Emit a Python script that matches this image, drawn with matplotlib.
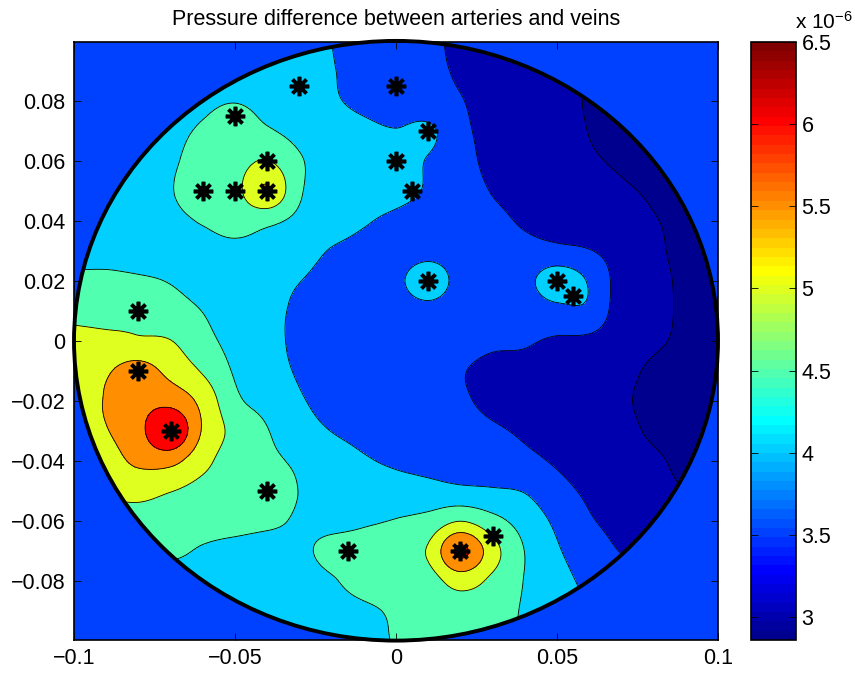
import numpy as np
import matplotlib
matplotlib.use("Agg")
import matplotlib.pyplot as plt
from matplotlib.colors import ListedColormap, Normalize
from matplotlib.patches import Circle
from matplotlib.cm import ScalarMappable

plt.rcParams["font.family"] = ["Liberation Sans", "DejaVu Sans"]
plt.rcParams["mathtext.default"] = "regular"

# field sampled on a 0.01 grid, values in units of 1e-6 (rows: y = 0.10 ... -0.10)
x_grid = np.round(np.arange(-0.1, 0.1001, 0.01), 3)
y_grid = np.round(np.arange(0.1, -0.1001, -0.01), 3)
pressure = [
    [4.2, 4.2, 4.2, 4.2, 4.2, 4.2, 4.2, 4.2, 4.0, 3.85, 3.75, 3.6, 3.4, 3.3, 3.2, 3.1, 3.0, 2.95, 2.95, 2.95, 2.95],
    [4.2, 4.2, 4.2, 4.2, 4.2, 4.15, 4.15, 4.1, 4.02, 3.85, 3.75, 3.6, 3.45, 3.3, 3.2, 3.1, 3.0, 2.95, 2.95, 2.95, 2.95],
    [4.2, 4.2, 4.25, 4.3, 4.4, 4.48, 4.35, 4.2, 4.05, 3.9, 3.75, 3.65, 3.52, 3.35, 3.25, 3.15, 2.97, 2.95, 2.9, 2.9, 2.9],
    [4.2, 4.25, 4.3, 4.4, 4.55, 4.7, 4.55, 4.35, 4.2, 4.1, 4.02, 4.1, 3.6, 3.4, 3.3, 3.2, 2.99, 2.9, 2.85, 2.85, 2.85],
    [4.25, 4.3, 4.35, 4.45, 4.65, 4.8, 5.02, 4.55, 4.3, 4.2, 4.15, 3.97, 3.65, 3.4, 3.3, 3.2, 3.05, 2.95, 2.85, 2.8, 2.8],
    [4.3, 4.35, 4.4, 4.48, 4.75, 4.85, 5.52, 4.56, 4.35, 4.25, 4.15, 3.95, 3.7, 3.48, 3.35, 3.25, 3.15, 3.05, 2.95, 2.85, 2.8],
    [4.3, 4.35, 4.4, 4.42, 4.53, 4.65, 4.6, 4.4, 4.25, 4.05, 3.9, 3.8, 3.7, 3.6, 3.45, 3.35, 3.25, 3.15, 3.02, 2.92, 2.88],
    [4.35, 4.4, 4.4, 4.4, 4.38, 4.4, 4.35, 4.2, 3.97, 3.85, 3.8, 3.85, 3.78, 3.7, 3.62, 3.6, 3.52, 3.3, 3.08, 2.9, 2.85],
    [4.6, 4.58, 4.55, 4.48, 4.35, 4.25, 4.15, 4.01, 3.85, 3.8, 3.9, 4.25, 3.85, 3.75, 3.85, 4.3, 3.95, 3.3, 3.12, 2.93, 2.88],
    [4.85, 4.85, 4.93, 4.7, 4.49, 4.3, 4.12, 3.93, 3.8, 3.75, 3.78, 3.85, 3.75, 3.7, 3.7, 3.85, 3.9, 3.25, 3.1, 2.95, 2.9],
    [5.15, 5.1, 5.05, 5.01, 4.65, 4.35, 4.15, 3.9, 3.8, 3.72, 3.7, 3.68, 3.63, 3.56, 3.54, 3.45, 3.4, 3.2, 3.05, 2.95, 2.9],
    [5.3, 5.45, 5.7, 5.35, 4.95, 4.45, 4.2, 3.95, 3.8, 3.72, 3.67, 3.6, 3.52, 3.42, 3.4, 3.35, 3.25, 3.1, 2.95, 2.9, 2.85],
    [5.4, 5.52, 5.8, 5.82, 5.35, 4.6, 4.35, 4.05, 3.85, 3.75, 3.7, 3.65, 3.55, 3.42, 3.35, 3.3, 3.2, 3.05, 2.92, 2.88, 2.84],
    [5.4, 5.48, 5.85, 6.5, 5.45, 4.85, 4.52, 4.2, 3.99, 3.85, 3.78, 3.7, 3.65, 3.55, 3.45, 3.35, 3.22, 3.1, 2.95, 2.88, 2.84],
    [5.2, 5.3, 5.6, 5.65, 5.15, 4.75, 4.6, 4.42, 4.25, 4.05, 3.93, 3.85, 3.78, 3.7, 3.6, 3.45, 3.3, 3.17, 3.05, 2.93, 2.88],
    [5.05, 5.1, 5.15, 5.02, 4.85, 4.75, 4.75, 4.49, 4.35, 4.25, 4.2, 4.15, 4.1, 4.05, 3.97, 3.65, 3.42, 3.25, 3.1, 3.0, 2.95],
    [4.75, 4.75, 4.8, 4.78, 4.72, 4.68, 4.6, 4.45, 4.4, 4.45, 4.52, 4.65, 4.98, 4.65, 4.3, 3.9, 3.55, 3.35, 3.2, 3.1, 3.05],
    [4.6, 4.6, 4.6, 4.6, 4.45, 4.35, 4.3, 4.42, 4.6, 4.65, 4.75, 5.05, 6.1, 5.2, 4.49, 4.05, 3.75, 3.48, 3.4, 3.3, 3.25],
    [4.3, 4.3, 4.3, 4.3, 4.3, 4.3, 4.3, 4.35, 4.47, 4.62, 4.68, 4.8, 5.2, 4.9, 4.48, 4.15, 3.9, 3.7, 3.6, 3.5, 3.45],
    [4.3, 4.3, 4.3, 4.3, 4.3, 4.3, 4.3, 4.32, 4.38, 4.45, 4.55, 4.7, 4.75, 4.7, 4.45, 4.2, 4.0, 3.8, 3.7, 3.6, 3.55],
    [4.3, 4.3, 4.3, 4.3, 4.3, 4.3, 4.3, 4.3, 4.35, 4.42, 4.52, 4.65, 4.65, 4.6, 4.45, 4.25, 4.1, 3.9, 3.8, 3.7, 3.6],
]

# vessel positions (asterisks)
vessel_x = [-0.03, 0.0, -0.05, 0.01, -0.04, 0.0, -0.06, -0.05, -0.04, 0.005,
            0.01, 0.05, 0.055, -0.08, -0.08, -0.07, -0.04, -0.015, 0.02, 0.03]
vessel_y = [0.085, 0.085, 0.075, 0.07, 0.06, 0.06, 0.05, 0.05, 0.05, 0.05,
            0.02, 0.02, 0.015, 0.01, -0.01, -0.03, -0.05, -0.07, -0.07, -0.065]

levels = [3.0, 3.5, 4.0, 4.5, 5.0, 5.5, 6.0]
clim = (2.86, 6.5)
cbar_ticks = [3, 3.5, 4, 4.5, 5, 5.5, 6, 6.5]
cbar_labels = ["3", "3.5", "4", "4.5", "5", "5.5", "6", "6.5"]
xticks = [-0.1, -0.05, 0, 0.05, 0.1]
xlabels = ["\u22120.1", "\u22120.05", "0", "0.05", "0.1"]
yticks = [-0.08, -0.06, -0.04, -0.02, 0, 0.02, 0.04, 0.06, 0.08]
ylabels = ["\u22120.08", "\u22120.06", "\u22120.04", "\u22120.02", "0",
           "0.02", "0.04", "0.06", "0.08"]


def matlab_jet(m=64):
    n = int(np.ceil(m / 4))
    u = np.concatenate([np.arange(1, n + 1) / n, np.ones(n - 1), np.arange(n, 0, -1) / n])
    g = int(np.ceil(n / 2)) - (1 if m % 4 == 1 else 0) + np.arange(1, len(u) + 1)
    r = g + n
    b = g - n
    J = np.zeros((m, 3))
    for col, idx in ((0, r), (1, g), (2, b)):
        ok = (idx >= 1) & (idx <= m)
        J[idx[ok] - 1, col] = u[ok]
    return ListedColormap(J)


def cubic_weights(n, factor):
    # catmull-rom resampling matrix, like a bicubic image resize (smooth shading only)
    t = np.linspace(0, n - 1, (n - 1) * factor + 1)
    k = np.clip(np.floor(t).astype(int), 0, n - 2)
    s = (t - k)[:, None]
    D = np.zeros((n, n))
    D[0, :2] = [-1, 1]
    D[-1, -2:] = [-1, 1]
    for i in range(1, n - 1):
        D[i, i - 1], D[i, i + 1] = -0.5, 0.5
    E = np.eye(n)
    W = ((2 * s**3 - 3 * s**2 + 1) * E[k] + (-2 * s**3 + 3 * s**2) * E[k + 1]
         + (s**3 - 2 * s**2 + s) * D[k] + (s**3 - s**2) * D[k + 1])
    return W


cmap = matlab_jet(64)
norm = Normalize(*clim)

Z = np.array(pressure)
Wy = cubic_weights(len(y_grid), 10)
Wx = cubic_weights(len(x_grid), 10)
z_fine = Wy @ Z @ Wx.T
x_fine = Wx @ x_grid
y_fine = Wy @ y_grid

fill_levels = [2.0] + levels + [7.0]
band_colors = [cmap(0)] + [cmap(norm(v)) for v in levels]

fig = plt.figure(figsize=(8.55, 6.73), dpi=100)
ax = fig.add_axes([74 / 855, 33 / 673, 644 / 855, 598.5 / 673])
ax.set_facecolor(cmap(norm(3.5)))

disk = Circle((0, 0), 0.1, transform=ax.transData)
cf = ax.contourf(x_fine, y_fine, z_fine, levels=fill_levels, colors=band_colors)
cf.set_clip_path(disk)
cl = ax.contour(x_fine, y_fine, z_fine, levels=levels, colors="k", linewidths=0.6)
cl.set_clip_path(disk)

ax.add_patch(Circle((0, 0), 0.1, fill=False, ec="k", lw=2.8, clip_on=False))
ax.plot(vessel_x, vessel_y, linestyle="none", marker=(8, 2, 0), ms=14,
        mew=2.6, color="k")

ax.set_xlim(-0.1, 0.1)
ax.set_ylim(-0.0998, 0.0998)
ax.set_xticks(xticks)
ax.set_xticklabels(xlabels)
ax.set_yticks(yticks)
ax.set_yticklabels(ylabels)
ax.tick_params(direction="in", top=True, right=True, length=5, width=0.6,
               labelsize=15.5, pad=6)
for sp in ax.spines.values():
    sp.set_linewidth(1.2)
ax.set_title("Pressure difference between arteries and veins", fontsize=15.5, pad=12)

cax = fig.add_axes([751 / 855, 33 / 673, 45 / 855, 598 / 673])
sm = ScalarMappable(norm=norm, cmap=cmap)
cb = fig.colorbar(sm, cax=cax, ticks=cbar_ticks)
cb.ax.set_yticklabels(cbar_labels)
cb.ax.tick_params(direction="in", left=True, right=True, length=5, width=0.6,
                  labelsize=15.5, pad=4)
cb.outline.set_linewidth(1.2)
fig.text(795 / 855, 1 - 29 / 673, "x 10$^{-6}$", fontsize=15, ha="left", va="baseline")

fig.savefig("out.png", dpi=100)
